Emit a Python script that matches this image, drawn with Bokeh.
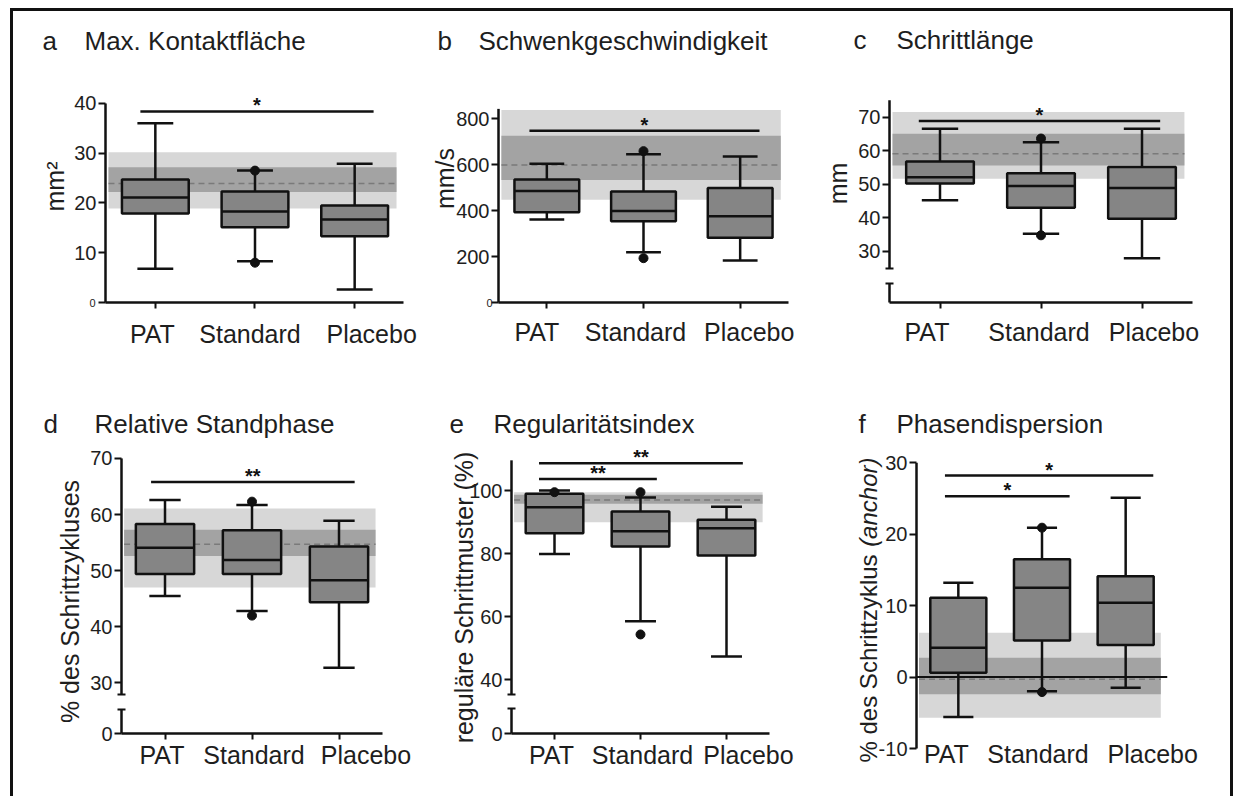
from math import pi

from bokeh.plotting import figure
from bokeh.layouts import row, column
from bokeh.models import Range1d, FixedTicker
from bokeh.core.properties import value
from bokeh.embed import file_html
from bokeh.resources import INLINE

groups = ["PAT", "Standard", "Placebo"]

# a: maximale Kontaktfläche (mm²)
a_low = [6.8, 8.3, 2.6]
a_q1 = [17.9, 15.1, 13.3]
a_med = [21.1, 18.3, 16.7]
a_q3 = [24.7, 22.3, 19.5]
a_high = [36.0, 26.5, 27.9]
a_dot_group = [1, 1]
a_dot_value = [26.5, 8.0]
a_norm_2sd = [18.9, 30.2]
a_norm_1sd = [22.2, 27.2]
a_norm_mean = 23.9
a_ticks = [0, 10, 20, 30, 40]
a_sig_from = [0]
a_sig_to = [2]
a_sig_y = [38.4]
a_sig_text = ["*"]

# b: Schwenkgeschwindigkeit (mm/s)
b_low = [361, 219, 183]
b_q1 = [393, 354, 282]
b_med = [485, 398, 376]
b_q3 = [536, 483, 498]
b_high = [604, 645, 636]
b_dot_group = [1, 1]
b_dot_value = [659, 193]
b_norm_2sd = [447, 838]
b_norm_1sd = [533, 726]
b_norm_mean = 599
b_ticks = [0, 200, 400, 600, 800]
b_sig_from = [0]
b_sig_to = [2]
b_sig_y = [748]
b_sig_text = ["*"]

# c: Schrittlänge (mm)
c_low = [45.2, 35.3, 28.0]
c_q1 = [50.2, 43.0, 39.7]
c_med = [52.1, 49.5, 48.9]
c_q3 = [56.8, 53.3, 55.1]
c_high = [66.5, 62.5, 66.5]
c_dot_group = [1, 1]
c_dot_value = [63.6, 34.8]
c_norm_2sd = [51.6, 71.5]
c_norm_1sd = [55.6, 65.0]
c_norm_mean = 59.1
c_ticks = [30, 40, 50, 60, 70]
c_sig_from = [0]
c_sig_to = [2]
c_sig_y = [68.8]
c_sig_text = ["*"]

# d: relative Standphase (% des Schrittzyklus)
d_low = [45.5, 42.8, 32.7]
d_q1 = [49.4, 49.4, 44.4]
d_med = [54.1, 51.9, 48.3]
d_q3 = [58.3, 57.2, 54.3]
d_high = [62.6, 61.7, 58.9]
d_dot_group = [1, 1]
d_dot_value = [62.3, 42.0]
d_norm_2sd = [47.0, 61.1]
d_norm_1sd = [52.6, 57.3]
d_norm_mean = 54.7
d_ticks = [30, 40, 50, 60, 70]
d_sig_from = [0]
d_sig_to = [2]
d_sig_y = [65.8]
d_sig_text = ["**"]

# e: Regularitätsindex (% reguläre Schrittmuster)
e_low = [79.9, 58.6, 47.4]
e_q1 = [86.5, 82.3, 79.4]
e_med = [94.7, 87.1, 88.1]
e_q3 = [99.0, 93.4, 90.8]
e_high = [100.0, 97.8, 94.9]
e_dot_group = [0, 1, 1]
e_dot_value = [99.5, 99.5, 54.4]
e_norm_2sd = [90.0, 99.5]
e_norm_1sd = [95.8, 98.7]
e_norm_mean = 97.0
e_ticks = [40, 60, 80, 100]
e_sig_from = [0, 0]
e_sig_to = [2, 1]
e_sig_y = [108.7, 103.7]
e_sig_text = ["**", "**"]

# f: Phasendispersion (% des Schrittzyklus, anchor)
f_low = [-5.6, -2.0, -1.5]
f_q1 = [0.6, 5.1, 4.5]
f_med = [4.1, 12.5, 10.4]
f_q3 = [11.1, 16.5, 14.1]
f_high = [13.2, 20.9, 25.1]
f_dot_group = [1, 1]
f_dot_value = [20.9, -2.1]
f_norm_2sd = [-5.7, 6.2]
f_norm_1sd = [-2.4, 2.7]
f_norm_mean = -0.3
f_ticks = [-10, 0, 10, 20, 30]
f_sig_from = [0, 0]
f_sig_to = [2, 1]
f_sig_y = [28.2, 25.3]
f_sig_text = ["*", "*"]

FONT = "Liberation Sans"
INK = "#111111"
TXT = "#1e1e1e"
BOX_FILL = "#858585"
BAND_LIGHT = "#d7d7d7"
BAND_DARK = "#a3a3a3"
MEAN_LINE = "#7a7a7a"
BOX_W = 0.67
CAP_W = 0.36
BAND_X = (-0.47, 2.42)


def free_text(p, x, y, text, dx, dy, size, align="left", baseline="alphabetic",
              angle=0.0, style="normal"):
    """Text anchored at a data point and shifted in pixels; drawn on the overlay
    level so that it may sit in the margins around the frame."""
    p.text(x=[x], y=[y], text=[text], x_offset=dx, y_offset=dy, angle=angle,
           text_font=value(FONT), text_font_size=size, text_font_style=style,
           text_color=TXT, text_align=align, text_baseline=baseline, level="overlay")


def make_panel(data, lay):
    ml, mr, mt, mb = lay["borders"]
    y0, y1 = lay["y"]
    p = figure(width=lay["w"], height=lay["h"],
               x_range=Range1d(-0.5, lay["x_end"]), y_range=Range1d(y0, y1),
               output_backend="svg", toolbar_location=None,
               min_border_left=ml, min_border_right=mr,
               min_border_top=mt, min_border_bottom=mb)
    p.grid.visible = False
    p.outline_line_color = None
    p.background_fill_color = "white"
    p.border_fill_color = "white"

    xs = list(range(len(groups)))

    # reference range of the healthy group: ±2 SD, ±1 SD and mean
    p.quad(left=[BAND_X[0]], right=[BAND_X[1]], bottom=[data["sd2"][0]], top=[data["sd2"][1]],
           fill_color=BAND_LIGHT, line_color=None)
    p.quad(left=[BAND_X[0]], right=[BAND_X[1]], bottom=[data["sd1"][0]], top=[data["sd1"][1]],
           fill_color=BAND_DARK, line_color=None)
    p.segment(x0=[BAND_X[0]], x1=[BAND_X[1]], y0=[data["mean"]], y1=[data["mean"]],
              line_color=MEAN_LINE, line_width=1.5, line_dash="6 4")

    if lay.get("zero_line"):
        p.segment(x0=[-0.5], x1=[lay["x_end"]], y0=[0], y1=[0], line_color=INK, line_width=2)

    # whiskers and caps
    p.segment(x0=xs, x1=xs, y0=data["q3"], y1=data["high"], line_color=INK, line_width=2.5)
    p.segment(x0=xs, x1=xs, y0=data["q1"], y1=data["low"], line_color=INK, line_width=2.5)
    cap_l = [x - CAP_W / 2 for x in xs]
    cap_r = [x + CAP_W / 2 for x in xs]
    p.segment(x0=cap_l, x1=cap_r, y0=data["high"], y1=data["high"], line_color=INK, line_width=2.5)
    p.segment(x0=cap_l, x1=cap_r, y0=data["low"], y1=data["low"], line_color=INK, line_width=2.5)

    # boxes and medians
    p.vbar(x=xs, width=BOX_W, bottom=data["q1"], top=data["q3"],
           fill_color=BOX_FILL, line_color=INK, line_width=2.5)
    p.segment(x0=[x - BOX_W / 2 for x in xs], x1=[x + BOX_W / 2 for x in xs],
              y0=data["med"], y1=data["med"], line_color=INK, line_width=2.5)

    # single points
    p.scatter(x=data["dot_g"], y=data["dot_v"], size=9, color=INK)

    # significance brackets
    ov_l, ov_r = lay["sig_overhang"]
    sx0 = [i - ov_l for i in data["sig_from"]]
    sx1 = [j + ov_r for j in data["sig_to"]]
    p.segment(x0=sx0, x1=sx1, y0=data["sig_y"], y1=data["sig_y"], line_color=INK, line_width=2.5)
    p.text(x=[(a + b) / 2 for a, b in zip(sx0, sx1)], y=data["sig_y"], text=data["sig_text"],
           text_font=value(FONT), text_font_style="bold", text_font_size="20px",
           text_color=INK, text_align="center", text_baseline="alphabetic", y_offset=-6)

    # y axis line (with optional break)
    segs = lay["axis_segments"]
    p.segment(x0=[-0.5] * len(segs), x1=[-0.5] * len(segs),
              y0=[s[0] for s in segs], y1=[s[1] for s in segs],
              line_color=INK, line_width=2.5, level="overlay")

    ya = p.yaxis[0]
    ya.ticker = FixedTicker(ticks=lay["ticks"], minor_ticks=lay.get("breaks", []))
    ya.axis_line_color = None
    ya.major_tick_out = 7
    ya.major_tick_in = 0
    ya.major_tick_line_width = 2
    ya.major_tick_line_color = INK
    ya.minor_tick_out = 4
    ya.minor_tick_in = 4
    ya.minor_tick_line_width = 2
    ya.minor_tick_line_color = INK
    ya.major_label_standoff = 2
    ya.major_label_text_font = FONT
    ya.major_label_text_font_size = "20px"
    ya.major_label_text_color = TXT
    ya.major_label_overrides = lay.get("overrides", {})

    xa = p.xaxis[0]
    xa.ticker = FixedTicker(ticks=xs)
    xa.minor_tick_line_color = None
    xa.major_label_text_font_size = "0px"
    xa.major_label_standoff = 0
    if lay.get("no_xaxis"):
        xa.axis_line_color = None
        xa.major_tick_line_color = None
    else:
        xa.axis_line_width = 2.5
        xa.axis_line_color = INK
        xa.major_tick_out = 6
        xa.major_tick_in = 0
        xa.major_tick_line_width = 2
        xa.major_tick_line_color = INK

    # group names below the axis
    for i, name in enumerate(groups):
        free_text(p, i, y0, name, lay["cat_dx"][i], -lay["cat_y"], "25px", align="center")

    # small zero label
    if lay.get("small_zero") is not None:
        free_text(p, -0.5, 0, "0", lay["small_zero"], 0, "11px", align="right", baseline="middle")

    # panel letter and title
    lx, tx, ty = lay["title_pos"]
    free_text(p, -0.5, y0, lay["letter"], lx, -ty, "26px")
    free_text(p, -0.5, y0, lay["title"], tx, -ty, "26px")

    # y axis title
    for txt, px, py, align, style, size in lay["ylabel"]:
        free_text(p, -0.5, y0, txt, px, -py, size, align=align, baseline="middle",
                  angle=pi / 2, style=style)
    return p


def pack(low, q1, med, q3, high, dg, dv, sd2, sd1, mean, sf, st, sy, stx):
    return dict(low=low, q1=q1, med=med, q3=q3, high=high, dot_g=dg, dot_v=dv,
                sd2=sd2, sd1=sd1, mean=mean, sig_from=sf, sig_to=st, sig_y=sy, sig_text=stx)


pa = make_panel(
    pack(a_low, a_q1, a_med, a_q3, a_high, a_dot_group, a_dot_value, a_norm_2sd, a_norm_1sd,
         a_norm_mean, a_sig_from, a_sig_to, a_sig_y, a_sig_text),
    dict(w=405, h=389, borders=(92, 15, 79, 98), x_end=2.49, y=(0, 42.6),
         ticks=a_ticks, overrides={0: ""}, small_zero=-10, axis_segments=[(0, 40)],
         sig_overhang=(0.15, 0.19), cat_y=-31, cat_dx=[-3, -5, 17],
         letter="a", title="Max. Kontaktfläche", title_pos=(-63, -21, 262),
         ylabel=[("mm²", -51, 116, "center", "normal", "25px")]))

pb = make_panel(
    pack(b_low, b_q1, b_med, b_q3, b_high, b_dot_group, b_dot_value, b_norm_2sd, b_norm_1sd,
         b_norm_mean, b_sig_from, b_sig_to, b_sig_y, b_sig_text),
    dict(w=406, h=389, borders=(80, 36, 79, 98), x_end=2.5, y=(0, 923),
         ticks=b_ticks, overrides={0: ""}, small_zero=-6, axis_segments=[(0, 843)],
         sig_overhang=(0.18, 0.2), cat_y=-29, cat_dx=[-10, -8, 9],
         letter="b", title="Schwenkgeschwindigkeit", title_pos=(-61, -20, 262),
         ylabel=[("mm/s", -54, 124, "center", "normal", "25px")]))

pc = make_panel(
    pack(c_low, c_q1, c_med, c_q3, c_high, c_dot_group, c_dot_value, c_norm_2sd, c_norm_1sd,
         c_norm_mean, c_sig_from, c_sig_to, c_sig_y, c_sig_text),
    dict(w=406, h=389, borders=(65, 38, 79, 98), x_end=2.5, y=(14.8, 77.9),
         ticks=c_ticks, breaks=[25, 20.6], axis_segments=[(25, 75), (14.8, 20.6)],
         sig_overhang=(0.21, 0.18), cat_y=-29, cat_dx=[-13, -2, 12],
         letter="c", title="Schrittlänge", title_pos=(-36, 7, 263),
         ylabel=[("mm", -52, 119, "center", "normal", "25px")]))

pd_ = make_panel(
    pack(d_low, d_q1, d_med, d_q3, d_high, d_dot_group, d_dot_value, d_norm_2sd, d_norm_1sd,
         d_norm_mean, d_sig_from, d_sig_to, d_sig_y, d_sig_text),
    dict(w=405, h=396, borders=(108, 36, 45, 63), x_end=2.5, y=(21, 72.3),
         ticks=[21] + d_ticks, overrides={21: "0"}, breaks=[27.9, 25.25],
         axis_segments=[(27.9, 70), (21, 25.25)],
         sig_overhang=(0.16, 0.18), cat_y=-21, cat_dx=[-3, 2, 27],
         letter="d", title="Relative Standphase", title_pos=(-78, -27, 310),
         ylabel=[("% des Schrittzykluses", -52, 132, "center", "normal", "25px")]))

pe = make_panel(
    pack(e_low, e_q1, e_med, e_q3, e_high, e_dot_group, e_dot_value, e_norm_2sd, e_norm_1sd,
         e_norm_mean, e_sig_from, e_sig_to, e_sig_y, e_sig_text),
    dict(w=406, h=396, borders=(93, 55, 45, 63), x_end=2.5, y=(23, 114.3),
         ticks=[23] + e_ticks, overrides={23: "0"}, breaks=[35.3, 30.8],
         axis_segments=[(35.3, 109.6), (23, 30.8)],
         sig_overhang=(0.18, 0.19), cat_y=-21, cat_dx=[-3, 2, 22],
         letter="e", title="Regularitätsindex", title_pos=(-62, -18, 310),
         ylabel=[("reguläre Schrittmuster (%)", -48, 136, "center", "normal", "25px")]))

pf = make_panel(
    pack(f_low, f_q1, f_med, f_q3, f_high, f_dot_group, f_dot_value, f_norm_2sd, f_norm_1sd,
         f_norm_mean, f_sig_from, f_sig_to, f_sig_y, f_sig_text),
    dict(w=406, h=396, borders=(92, 63, 45, 48), x_end=2.5, y=(-10, 32.4),
         ticks=f_ticks, overrides={-10: "-10"}, axis_segments=[(-10, 30)],
         zero_line=True, no_xaxis=True,
         sig_overhang=(0.16, 0.33), cat_y=-5, cat_dx=[-12, -4, 27],
         letter="f", title="Phasendispersion", title_pos=(-58, -20, 325),
         ylabel=[("% des Schrittzyklus", -48, -14, "left", "normal", "24px"),
                 ("(anchor)", -48, 291, "right", "italic", "24px")]))

page = column(row(pa, pb, pc), row(pd_, pe, column(pf)),
              styles={"margin-left": "10px", "margin-top": "8px",
                      "border-top": "3px solid #111", "border-left": "3px solid #111",
                      "border-right": "3px solid #111"})

open("out.html", "w").write(file_html(page, INLINE))
